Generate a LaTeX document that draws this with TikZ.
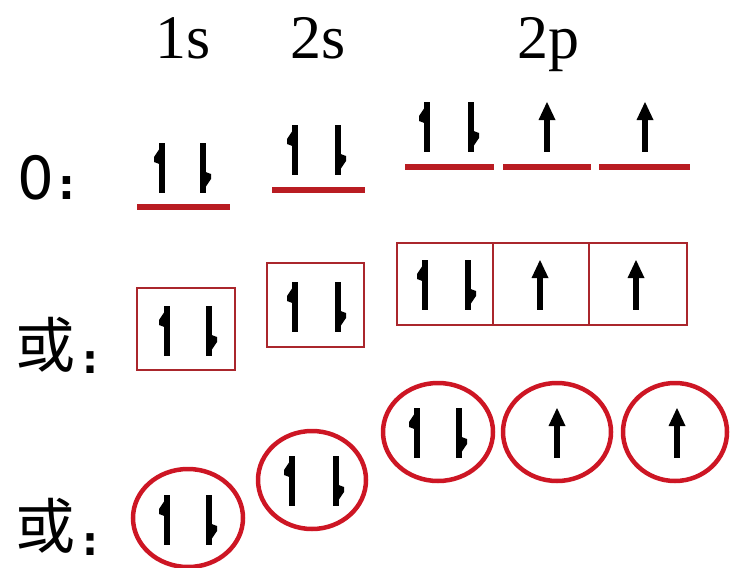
\documentclass[tikz,border=0pt]{standalone}
\usepackage{fontspec}
\setmainfont{Liberation Serif}
\newfontfamily\cjkfont{Noto Sans CJK SC}
\newfontfamily\monofont{Liberation Mono}
\newfontfamily\colfont{DejaVu Sans}
\definecolor{lvlred}{RGB}{185,28,34}
\definecolor{boxred}{RGB}{170,38,44}
\definecolor{circred}{RGB}{205,22,36}
\tikzset{
  x=1pt, y=-1pt,
  lbl/.style={inner sep=0pt, anchor=base, font=\fontsize{62}{62}\selectfont},
  cjklbl/.style={inner sep=0pt, anchor=center, font=\cjkfont\fontsize{60}{60}\selectfont},
  collbl/.style={inner sep=0pt, anchor=base, font=\colfont\bfseries\fontsize{40}{40}\selectfont},
  bigcol/.style={inner sep=0pt, anchor=base, font=\colfont\bfseries\fontsize{42}{42}\selectfont},
  level/.style={draw=lvlred, line width=6pt},
  orbbox/.style={draw=boxred, line width=2.8pt},
  orbcirc/.style={draw=circred, line width=4.5pt},
  uphalf/.pic={
    \fill[black] (-2.6,-25) rectangle (2.6,25);
    \fill[black] (-2.6,-19) -- (-8,-11) -- (-8,-6) -- (-2.6,-4) -- cycle;
  },
  downhalf/.pic={
    \fill[black] (-2.6,-25) rectangle (2.6,25);
    \fill[black] (2.6,19) -- (8,11) -- (8,6) -- (2.6,4) -- cycle;
  },
  upfull/.pic={
    \fill[black] (-2.6,-10) rectangle (2.6,25);
    \fill[black] (0,-25) -- (8.5,-7) -- (-8.5,-7) -- cycle;
  },
}
\begin{document}
\begin{tikzpicture}
\useasboundingbox (0,0) rectangle (735,567);
% headings
\node[lbl] (h1s) at (183,59) {1s};
\node[lbl] (h2s) at (318,59) {2s};
\node[lbl] (h2p) at (548,59) {2p};
% row labels
\node[inner sep=0pt, anchor=base, xscale=0.88, font=\monofont\fontsize{66}{66}\selectfont] (oO) at (36,199) {O};
\node[bigcol] (oc) at (67,199) {:};
\node[cjklbl] (r2) at (46,345) {或};
\node[collbl] (r2c) at (90,373) {:};
\node[cjklbl] (r3) at (46,526) {或};
\node[collbl] (r3c) at (90,555) {:};
% row 1: levels
\draw[level] (137,207) -- (230,207);
\draw[level] (272,190) -- (365,190);
\draw[level] (405,167) -- (494,167);
\draw[level] (503,167) -- (591,167);
\draw[level] (599,167) -- (690,167);
\pic at (162,168) {uphalf};
\pic at (203,168) {downhalf};
\pic at (295,150) {uphalf};
\pic at (338,150) {downhalf};
\pic at (427,127) {uphalf};
\pic at (471,127) {downhalf};
\pic at (547,127) {upfull};
\pic at (645,127) {upfull};
% row 2: boxes
\draw[orbbox] (137,288) rectangle (235,370);
\draw[orbbox] (267,263) rectangle (364,347);
\draw[orbbox] (397,243) rectangle (687,325);
\draw[orbbox] (493,243) -- (493,325);
\draw[orbbox] (589,243) -- (589,325);
\pic at (167,331) {uphalf};
\pic at (209,331) {downhalf};
\pic at (295,307) {uphalf};
\pic at (338,307) {downhalf};
\pic at (425,285) {uphalf};
\pic at (468,285) {downhalf};
\pic at (540,285) {upfull};
\pic at (636,285) {upfull};
% row 3: circles
\draw[orbcirc] (188,518) ellipse [x radius=55pt, y radius=49pt];
\draw[orbcirc] (312,480) ellipse [x radius=54pt, y radius=49pt];
\draw[orbcirc] (438,432) ellipse [x radius=55pt, y radius=49pt];
\draw[orbcirc] (557,432) ellipse [x radius=54pt, y radius=49pt];
\draw[orbcirc] (675,432) ellipse [x radius=52pt, y radius=49pt];
\pic at (167,520) {uphalf};
\pic at (209,520) {downhalf};
\pic at (292,481) {uphalf};
\pic at (336,481) {downhalf};
\pic at (417,433) {uphalf};
\pic at (459,433) {downhalf};
\pic at (557,433) {upfull};
\pic at (677,433) {upfull};
\end{tikzpicture}
\end{document}
